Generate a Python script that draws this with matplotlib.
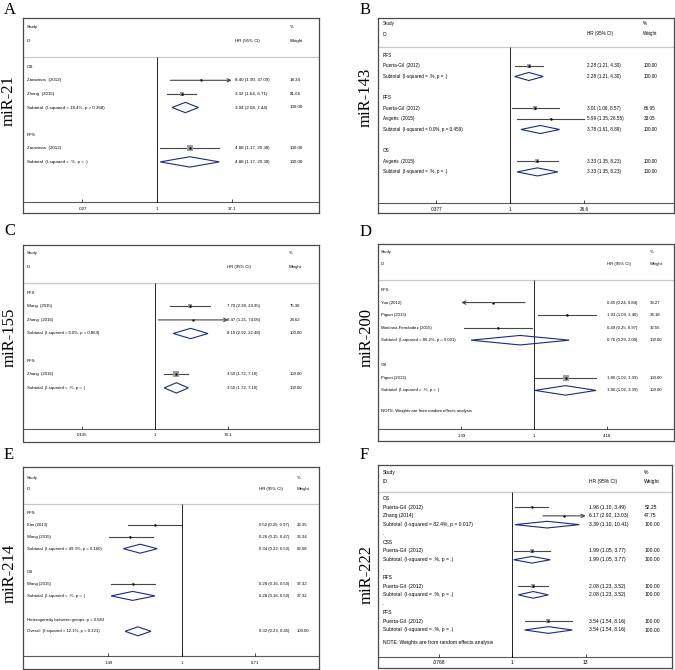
import numpy as np
import matplotlib
matplotlib.use("Agg")
import matplotlib.pyplot as plt

plt.rcParams['font.family'] = ['Liberation Sans', 'DejaVu Sans']

NAN = np.nan

# ---------------- data ----------------
# kind: 'h' = label only, 's' = study, 'd' = pooled (diamond), '' = blank row
A_labels = ["OS", "Zaravinos  (2012)", "Zhang  (2015)", "Subtotal  (I-squared = 18.4%, p = 0.268)", "",
            "RFS", "Zaravinos  (2012)", "Subtotal  (I-squared = .%, p = .)"]
A_kind = ["h", "s", "s", "d", "", "h", "s", "d"]
A_hr = [NAN, 8.40, 3.32, 3.94, NAN, NAN, 4.88, 4.88]
A_lo = [NAN, 1.90, 1.64, 2.08, NAN, NAN, 1.17, 1.17]
A_hi = [NAN, 37.09, 6.71, 7.44, NAN, NAN, 20.38, 20.38]
A_wt = [NAN, 18.34, 81.66, 100.00, NAN, NAN, 100.00, 100.00]
A_arrow = ["", "r", "", "", "", "", "", ""]
A_ticks = [0.027, 1, 37.1]
A_ticklabels = [".027", "1", "37.1"]

B_labels = ["RFS", "Puerta-Gil  (2012)", "Subtotal  (I-squared = .%, p = .)", "",
            "PFS", "Puerta-Gil  (2012)", "Avgeris  (2015)", "Subtotal  (I-squared = 0.0%, p = 0.459)", "",
            "OS", "Avgeris  (2015)", "Subtotal  (I-squared = .%, p = .)"]
B_kind = ["h", "s", "d", "", "h", "s", "s", "d", "", "h", "s", "d"]
B_hr = [NAN, 2.28, 2.28, NAN, NAN, 3.01, 5.99, 3.78, NAN, NAN, 3.33, 3.33]
B_lo = [NAN, 1.21, 1.21, NAN, NAN, 1.06, 1.35, 1.61, NAN, NAN, 1.35, 1.35]
B_hi = [NAN, 4.30, 4.30, NAN, NAN, 8.57, 26.55, 8.89, NAN, NAN, 8.23, 8.23]
B_wt = [NAN, 100.00, 100.00, NAN, NAN, 66.95, 33.05, 100.00, NAN, NAN, 100.00, 100.00]
B_arrow = [""] * 12
B_ticks = [0.0377, 1, 26.6]
B_ticklabels = [".0377", "1", "26.6"]

C_labels = ["PFS", "Wang  (2015)", "Zhang  (2016)", "Subtotal  (I-squared = 0.0%, p = 0.864)", "",
            "RFS", "Zhang  (2016)", "Subtotal  (I-squared = .%, p = .)"]
C_kind = ["h", "s", "s", "d", "", "h", "s", "d"]
C_hr = [NAN, 7.70, 9.47, 8.10, NAN, NAN, 3.50, 3.50]
C_lo = [NAN, 2.38, 1.21, 2.92, NAN, NAN, 1.72, 1.72]
C_hi = [NAN, 24.95, 74.06, 22.48, NAN, NAN, 7.10, 7.10]
C_wt = [NAN, 75.38, 24.62, 100.00, NAN, NAN, 100.00, 100.00]
C_arrow = ["", "", "r", "", "", "", "", ""]
C_ticks = [0.0135, 1, 74.1]
C_ticklabels = [".0135", "1", "74.1"]

D_labels = ["RFS", "Yun (2012)", "Pignot (2013)", "Martinez-Fernández (2015)",
            "Subtotal  (I-squared = 86.2%, p = 0.001)", ".",
            "OS", "Pignot (2013)", "Subtotal  (I-squared = .%, p = .)"]
D_kind = ["h", "s", "s", "s", "d", "h", "h", "s", "d"]
D_hr = [NAN, 0.45, 1.93, 0.49, 0.76, NAN, NAN, 1.86, 1.86]
D_lo = [NAN, 0.24, 1.09, 0.25, 0.29, NAN, NAN, 1.02, 1.02]
D_hi = [NAN, 0.84, 3.40, 0.97, 2.00, NAN, NAN, 3.39, 3.39]
D_wt = [NAN, 33.27, 34.18, 32.55, 100.00, NAN, NAN, 100.00, 100.00]
D_arrow = ["", "l", "", "", "", "", "", "", ""]
D_ticks = [0.239, 1, 4.18]
D_ticklabels = [".239", "1", "4.18"]
D_note = "NOTE: Weights are from random effects analysis"

E_labels = ["RFS", "Kim (2013)", "Wang (2015)", "Subtotal  (I-squared = 49.3%, p = 0.160)", "",
            "OS", "Wang (2015)", "Subtotal  (I-squared = .%, p = .)", "",
            "Heterogeneity between groups: p = 0.583", "Overall  (I-squared = 12.1%, p = 0.321)"]
E_kind = ["h", "s", "s", "d", "", "h", "s", "d", "", "h", "d"]
E_hr = [NAN, 0.50, 0.26, 0.34, NAN, NAN, 0.28, 0.28, NAN, NAN, 0.32]
E_lo = [NAN, 0.25, 0.15, 0.22, NAN, NAN, 0.16, 0.16, NAN, NAN, 0.23]
E_hi = [NAN, 0.97, 0.47, 0.53, NAN, NAN, 0.50, 0.50, NAN, NAN, 0.45]
E_wt = [NAN, 26.35, 36.34, 62.68, NAN, NAN, 37.32, 37.32, NAN, NAN, 100.00]
E_arrow = [""] * 11
E_ticks = [0.149, 1, 6.71]
E_ticklabels = [".149", "1", "6.71"]

F_labels = ["OS", "Puerta-Gil  (2012)", "Zhang (2014)", "Subtotal  (I-squared = 82.4%, p = 0.017)", ".",
            "CSS", "Puerta-Gil  (2012)", "Subtotal  (I-squared = .%, p = .)", ".",
            "RFS", "Puerta-Gil  (2012)", "Subtotal  (I-squared = .%, p = .)", ".",
            "PFS", "Puerta-Gil  (2012)", "Subtotal  (I-squared = .%, p = .)"]
F_kind = ["h", "s", "s", "d", "h", "h", "s", "d", "h", "h", "s", "d", "h", "h", "s", "d"]
F_hr = [NAN, 1.96, 6.17, 3.39, NAN, NAN, 1.99, 1.99, NAN, NAN, 2.08, 2.08, NAN, NAN, 3.54, 3.54]
F_lo = [NAN, 1.10, 2.92, 1.10, NAN, NAN, 1.05, 1.05, NAN, NAN, 1.23, 1.23, NAN, NAN, 1.54, 1.54]
F_hi = [NAN, 3.49, 13.03, 10.41, NAN, NAN, 3.77, 3.77, NAN, NAN, 3.52, 3.52, NAN, NAN, 8.16, 8.16]
F_wt = [NAN, 52.25, 47.75, 100.00, NAN, NAN, 100.00, 100.00, NAN, NAN, 100.00, 100.00, NAN, NAN, 100.00, 100.00]
F_arrow = ["", "", "r", "", "", "", "", "", "", "", "", "", "", "", "", ""]
F_ticks = [0.0768, 1, 13]
F_ticklabels = [".0768", "1", "13"]
F_note = "NOTE: Weights are from random effects analysis"

panel_letters = ["A", "B", "C", "D", "E", "F"]
panel_names = ["miR-21", "miR-143", "miR-155", "miR-200", "miR-214", "miR-222"]

# ---------------- layout (pixels) ----------------
W, H = 675, 670
fig = plt.figure(figsize=(W / 100, H / 100), dpi=100)

CI_COL = "#474747"
BOX_COL = "#9c9c9c"
DIA_COL = "#1c2a86"


def forest(lay, labels, kind, hr, lo, hi, wt, arrow, ticks, ticklabels, note=None):
    left, top, right, bottom = lay["box"]
    ax = fig.add_axes([left / W, 1 - bottom / H, (right - left) / W, (bottom - top) / H])
    k = (lay["tick"] - lay["null"]) / np.log10(ticks[-1])  # px per decade
    ax.set_xscale("log")
    ax.set_xlim(10 ** ((left - lay["null"]) / k), 10 ** ((right - lay["null"]) / k))
    ax.set_ylim(bottom, top)
    ax.tick_params(which="both", bottom=False, left=False, labelbottom=False, labelleft=False)
    for s in ax.spines.values():
        s.set_color("#4a4a4a")
        s.set_linewidth(0.9)

    tr = ax.get_yaxis_transform()
    fx = lambda px: (px - left) / (right - left)
    fs = lay["fs"]
    cs, ch, cw = lay["cols"]
    y_study, y_id = lay["hdr"]

    ax.text(fx(cs), y_study, "Study", transform=tr, fontsize=fs, va="center")
    ax.text(fx(cw), y_study, "%", transform=tr, fontsize=fs, va="center")
    ax.text(fx(cs), y_id, "ID", transform=tr, fontsize=fs, va="center")
    ax.text(fx(ch), y_id, "HR (95% CI)", transform=tr, fontsize=fs, va="center")
    ax.text(fx(cw), y_id, "Weight", transform=tr, fontsize=fs, va="center")

    ax.axhline(lay["sep"], color="#c8c8c8", lw=0.9)
    ax.axhline(lay["axis"], color="#5a5a5a", lw=0.8)
    ax.vlines(1, lay["sep"], lay["axis"], color="black", lw=0.6)
    ax.vlines(ticks, lay["axis"] - 3, lay["axis"], color="black", lw=0.5)
    for t, tl in zip(ticks, ticklabels):
        ax.text(t, lay["tlab"], tl, fontsize=fs, ha="center", va="center")

    dy = lay["dy"]
    h = 0.38 * dy
    side = 0.4 * dy
    for i, lab in enumerate(labels):
        y = lay["y0"] + i * dy
        if lab:
            ax.text(fx(cs), y, lab, transform=tr, fontsize=fs, va="center")
        if kind[i] not in ("s", "d"):
            continue
        ax.text(fx(ch), y, f"{hr[i]:.2f} ({lo[i]:.2f}, {hi[i]:.2f})", transform=tr,
                fontsize=fs, va="center")
        ax.text(fx(cw), y, f"{wt[i]:.2f}", transform=tr, fontsize=fs, va="center")
        if kind[i] == "s":
            if arrow[i] == "r":
                ax.annotate("", xy=(ticks[-1], y), xytext=(lo[i], y),
                            arrowprops=dict(arrowstyle="->", color=CI_COL, lw=0.8,
                                            mutation_scale=6, shrinkA=0, shrinkB=0))
            elif arrow[i] == "l":
                ax.annotate("", xy=(ticks[0], y), xytext=(hi[i], y),
                            arrowprops=dict(arrowstyle="->", color=CI_COL, lw=0.8,
                                            mutation_scale=6, shrinkA=0, shrinkB=0))
            else:
                ax.plot([lo[i], hi[i]], [y, y], color=CI_COL, lw=0.8)
            sz = side * np.sqrt(wt[i] / 100) * 0.72
            ax.scatter([hr[i]], [y], marker="s", s=sz ** 2, color=BOX_COL, linewidths=0, zorder=3)
            ax.plot([hr[i]], [y], "o", ms=1.7, color="black", mec="none", zorder=4)
        else:
            ax.fill([lo[i], hr[i], hi[i], hr[i]], [y, y - h, y, y + h],
                    fill=False, edgecolor=DIA_COL, lw=0.8, zorder=3)
    if note:
        ax.text(fx(cs), lay["note"], note, transform=tr, fontsize=fs, va="center")
    return ax


def panel_text(letter, name, lpos, npos):
    fig.text(lpos[0] / W, 1 - lpos[1] / H, letter, family=["Liberation Serif"],
             fontsize=12, ha="left", va="center")
    fig.text(npos[0] / W, 1 - npos[1] / H, name, family=["Liberation Serif"],
             fontsize=12, rotation=90, ha="center", va="center")


layA = dict(box=(23, 18, 319, 213), null=157, tick=231.7, y0=66.7, dy=13.6,
            hdr=(26.7, 40.7), sep=57.3, axis=202.3, tlab=209.3,
            cols=(26.7, 235, 290), fs=3.2)
layB = dict(box=(378, 18, 674, 213), null=510.3, tick=584.3, y0=55.3, dy=10.6,
            hdr=(23.3, 34), sep=46.7, axis=203.3, tlab=209.3,
            cols=(382.7, 587.3, 643.3), fs=3.3)
layC = dict(box=(23, 245, 319, 441.5), null=155, tick=228.3, y0=292.7, dy=13.6,
            hdr=(252.7, 266.7), sep=282.7, axis=428.7, tlab=435,
            cols=(26.7, 226.7, 289.3), fs=3.1)
layD = dict(box=(378, 244.5, 673.5, 441), null=534, tick=606.7, y0=290, dy=12.55,
            hdr=(252.3, 264.3), sep=280, axis=429, tlab=436, note=410.7,
            cols=(381, 606.7, 650), fs=3.05)
layE = dict(box=(23, 467, 318.5, 669.3), null=181.7, tick=255, y0=513.3, dy=11.8,
            hdr=(477.7, 489.3), sep=504, axis=656, tlab=662.7,
            cols=(26.7, 259.3, 296.7), fs=3.1)
layF = dict(box=(378, 465, 672, 668.3), null=512.3, tick=585.7, y0=498.3, dy=8.78,
            hdr=(472.7, 481.7), sep=491.7, axis=656.7, tlab=662.7, note=642.3,
            cols=(382.7, 589, 644.3), fs=3.6)

forest(layA, A_labels, A_kind, A_hr, A_lo, A_hi, A_wt, A_arrow, A_ticks, A_ticklabels)
forest(layB, B_labels, B_kind, B_hr, B_lo, B_hi, B_wt, B_arrow, B_ticks, B_ticklabels)
forest(layC, C_labels, C_kind, C_hr, C_lo, C_hi, C_wt, C_arrow, C_ticks, C_ticklabels)
forest(layD, D_labels, D_kind, D_hr, D_lo, D_hi, D_wt, D_arrow, D_ticks, D_ticklabels, D_note)
forest(layE, E_labels, E_kind, E_hr, E_lo, E_hi, E_wt, E_arrow, E_ticks, E_ticklabels)
forest(layF, F_labels, F_kind, F_hr, F_lo, F_hi, F_wt, F_arrow, F_ticks, F_ticklabels, F_note)

label_pos = [(4, 10.5), (360, 10), (4, 231), (360, 232), (4, 455), (360, 455)]
name_pos = [(8.5, 100.5), (366, 97.5), (9.5, 337), (366.5, 337.5), (10, 573), (367, 574)]
for letter, name, lp, npos in zip(panel_letters, panel_names, label_pos, name_pos):
    panel_text(letter, name, lp, npos)

fig.savefig("out.png", dpi=100)
